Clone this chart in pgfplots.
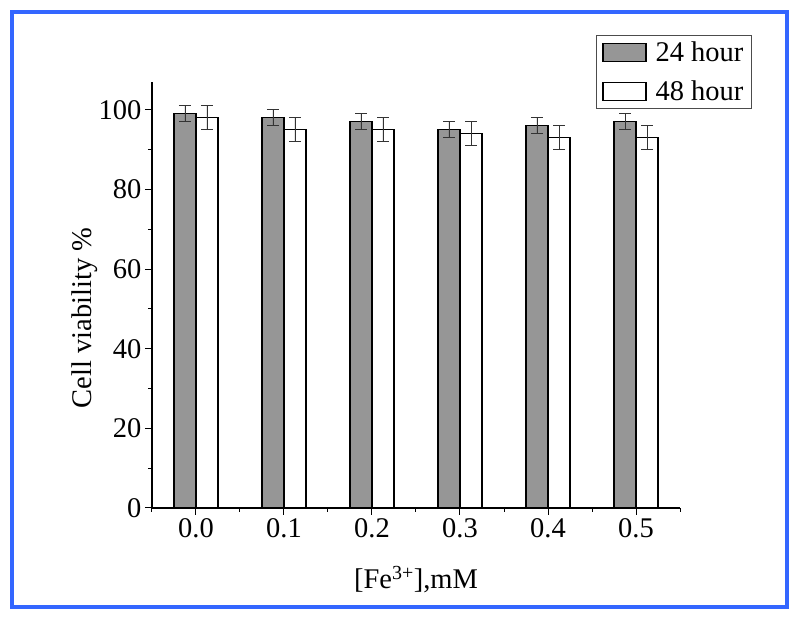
\documentclass[border=0pt]{standalone}
\usepackage{pgfplots}
\pgfplotsset{compat=1.18}
\usepackage{fontspec}
\setmainfont{Liberation Serif}
\definecolor{frameblue}{RGB}{51,102,255}
\definecolor{bargray}{RGB}{150,150,150}
\begin{document}
\begin{tikzpicture}
\useasboundingbox (-152pt,-112pt) rectangle (648pt,508pt);
\draw[frameblue, line width=4pt] (-140pt,-99pt) rectangle (635pt,496pt);
\begin{axis}[
  scale only axis, width=528pt, height=426pt,
  xmin=-0.05, xmax=0.55, ymin=0, ymax=107,
  axis x line*=bottom, axis y line*=left,
  axis line style={-, line width=1.2pt},
  xtick={0,0.1,0.2,0.3,0.4,0.5},
  minor xtick={-0.05,0.05,0.15,0.25,0.35,0.45,0.55},
  ytick={0,20,40,60,80,100},
  minor ytick={10,30,50,70,90},
  tick align=outside, major tick length=7pt, minor tick length=4pt,
  tick style={black, line width=1pt},
  xticklabel style={/pgf/number format/.cd, fixed, fixed zerofill, precision=1},
  /pgf/number format/assume math mode=true,
  font=\fontsize{28.5}{34}\selectfont,
  xlabel={[Fe\textsuperscript{3+}],mM},
  ylabel={Cell viability \%},
  xlabel style={at={(axis description cs:0.5,-0.169)}, anchor=center},
  ylabel style={at={(axis description cs:-0.127,0.446)}, anchor=center},
  legend image code/.code={\draw[#1,/tikz/.cd] (0pt,-9pt) rectangle (43pt,9pt);},
  legend style={draw=black!70, line width=0.8pt, at={(1.136,1.110)}, anchor=north east,
    inner xsep=6pt, inner ysep=4pt, row sep=14pt, column sep=7pt,
    font=\fontsize{28.5}{34}\selectfont},
  legend cell align=left,
]
\addplot[ybar, bar width=22pt, bar shift=-11pt, fill=bargray, draw=black, line width=1.3pt,
  error bars/.cd, y dir=both, y explicit,
  error bar style={line width=0.8pt, black!80, xshift=-11pt},
  error mark options={rotate=90, mark size=6pt, line width=0.8pt, black!80}]
  coordinates {(0,99) +- (0,2) (0.1,98) +- (0,2) (0.2,97) +- (0,2) (0.3,95) +- (0,2) (0.4,96) +- (0,2) (0.5,97) +- (0,2)};
\addlegendentry{24 hour}
\addplot[ybar, bar width=22pt, bar shift=11pt, fill=white, draw=black, line width=1.3pt,
  error bars/.cd, y dir=both, y explicit,
  error bar style={line width=0.8pt, black!80, xshift=11pt},
  error mark options={rotate=90, mark size=6pt, line width=0.8pt, black!80}]
  coordinates {(0,98) +- (0,3) (0.1,95) +- (0,3) (0.2,95) +- (0,3) (0.3,94) +- (0,3) (0.4,93) +- (0,3) (0.5,93) +- (0,3)};
\addlegendentry{48 hour}
\end{axis}
\end{tikzpicture}
\end{document}
